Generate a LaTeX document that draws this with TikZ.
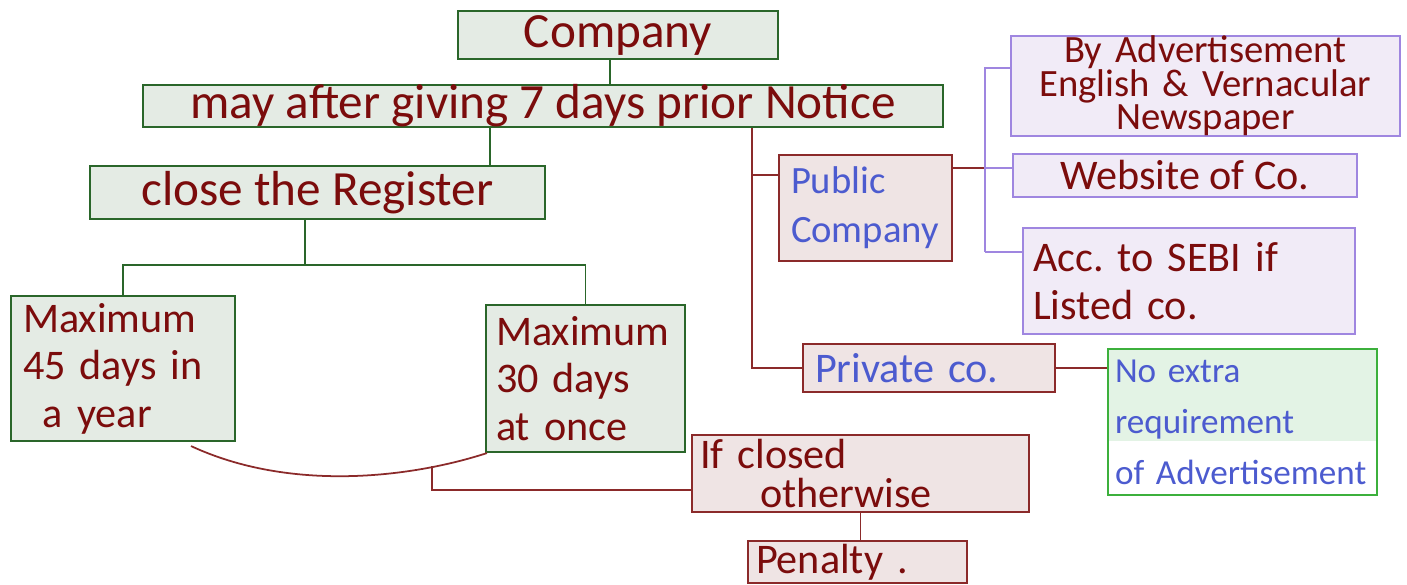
\documentclass[tikz,border=0pt]{standalone}
\usepackage{fontspec}
\setmainfont{Carlito}
\usetikzlibrary{positioning,calc}
\frenchspacing

\definecolor{inkred}{HTML}{7B0C0C}
\definecolor{inkblue}{HTML}{4C5BCF}
\definecolor{boxgreen}{HTML}{2A662A}
\definecolor{fillgreen}{HTML}{E4EBE4}
\definecolor{boxred}{HTML}{8B2A2A}
\definecolor{fillpink}{HTML}{EFE4E4}
\definecolor{boxpurple}{HTML}{9F86E0}
\definecolor{filllav}{HTML}{F1EBF7}
\definecolor{boxlime}{HTML}{3CB03C}
\definecolor{fillmint}{HTML}{E3F3E5}

\begin{document}
\begin{tikzpicture}[x=0.1mm, y=-0.1mm,
    gbox/.style={draw=boxgreen, fill=fillgreen, line width=0.6pt, inner ysep=0pt, inner xsep=0.12cm, text=inkred},
    rbox/.style={draw=boxred, fill=fillpink, line width=0.6pt, inner ysep=0pt, inner xsep=0.12cm, text=inkred},
    pbox/.style={draw=boxpurple, fill=filllav, line width=0.6pt, inner ysep=0pt, inner xsep=0.1cm, text=inkred},
    lbox/.style={draw=boxlime, line width=0.6pt, inner ysep=0pt, inner xsep=0.07cm, text=inkblue},
    bigtxt/.style={font=\fontsize{14}{16}\selectfont},
    txt/.style={font=\fontsize{12}{13.5}\selectfont},
    gline/.style={draw=boxgreen, line width=0.5pt},
    rline/.style={draw=boxred, line width=0.5pt},
    pline/.style={draw=boxpurple, line width=0.5pt}
]
\useasboundingbox (0,0) rectangle (1407,584);

% top of the tree
\node[gbox, bigtxt, minimum width=3.2cm, minimum height=0.48cm] (company) at (618,35) {Company};
\node[gbox, bigtxt, minimum width=8cm, minimum height=0.42cm] (notice) at (543,106) {may after giving 7 days prior Notice};
\node[gbox, bigtxt, minimum width=4.55cm, minimum height=0.53cm] (register) at (317.5,192.5) {close the Register};

% closing limits
\node[gbox, txt, minimum width=2.24cm, minimum height=1.45cm, text width=2cm, align=left] (max45) at (123,368.5) {Maximum\\45 days in\\\hspace{0.2cm}a year};
\node[gbox, txt, minimum width=1.99cm, minimum height=1.47cm, inner xsep=0.1cm, text width=1.79cm, align=left] (max30) at (585.5,378.5) {Maximum\\30 days\\at once};
\node[rbox, font=\fontsize{12}{11}\selectfont, minimum width=3.37cm, minimum height=0.77cm, inner xsep=0.08cm, text width=3.21cm, align=left] (ifclosed) at (860.5,473.5) {If closed\\\hspace{0.6cm}otherwise};
\node[rbox, txt, minimum width=2.19cm, minimum height=0.42cm, inner xsep=0.08cm, text width=2.03cm, align=left] (penalty) at (857.5,562) {Penalty .};

% notice to be given
\node[rbox, font=\fontsize{11}{14}\selectfont, text=inkblue, minimum width=1.73cm, minimum height=1.06cm, inner xsep=0.12cm, text width=1.49cm, align=left] (public) at (865.5,208) {Public\\Company};
\node[rbox, txt, text=inkblue, minimum width=2.52cm, minimum height=0.48cm, text width=2.28cm, align=left] (private) at (929,368) {Private co.};
\node[pbox, font=\fontsize{11}{9.5}\selectfont, minimum width=3.89cm, minimum height=0.96cm, text width=3.69cm, align=center] (byadv) at (1205.5,86) {By Advertisement\\English \& Vernacular\\Newspaper};
\node[pbox, txt, minimum width=3.44cm, minimum height=0.43cm] (website) at (1185,175.5) {Website of Co.};
\node[pbox, txt, minimum width=3.32cm, minimum height=1.06cm, text width=3.12cm, align=left] (sebi) at (1189,281) {Acc. to SEBI if\\Listed co.};
\node[lbox, font=\fontsize{10}{14.5}\selectfont, minimum width=2.69cm, minimum height=1.46cm, text width=2.55cm, align=left,
      path picture={\fill[fillmint] (path picture bounding box.north west) rectangle ([yshift=-0.92cm]path picture bounding box.north east);}] (noextra) at (1242.5,422) {No extra\\requirement\\of Advertisement};

% connectors
\draw[gline] (company.south -| 610,0) -- (notice.north -| 610,0);
\draw[gline] (notice.south -| 490,0) -- (register.north -| 490,0);
\coordinate (bus) at (305,265);
\draw[gline] (register.south -| bus) -- (bus);
\draw[gline] (max45.north) |- (bus) -| (max30.north);

\coordinate (tp) at (752,175);
\draw[rline] (notice.south -| tp) |- (private.west);
\draw[rline] (tp) -- (tp -| public.west);

\coordinate (pj) at (985,168);
\draw[rline] (pj -| public.east) -- (pj);
\draw[pline] (985,68 -| byadv.west) -| (985,252);
\draw[pline] (pj) -- (pj -| website.west);
\draw[pline] (985,252) -- (985,252 -| sebi.west);

\draw[rline] (private.east) -- (private.east -| noextra.west);

\draw[rline] ([xshift=-0.45cm, yshift=-0.04cm]max45.south east) .. controls (290,492) and (410,478) .. ([xshift=0.02cm]max30.south west);
\coordinate (cj) at (432,466);
\draw[rline] (cj) |- (432,490 -| ifclosed.west);
\draw[rline] (ifclosed.south) -- (ifclosed.south |- penalty.north);
\end{tikzpicture}
\end{document}
